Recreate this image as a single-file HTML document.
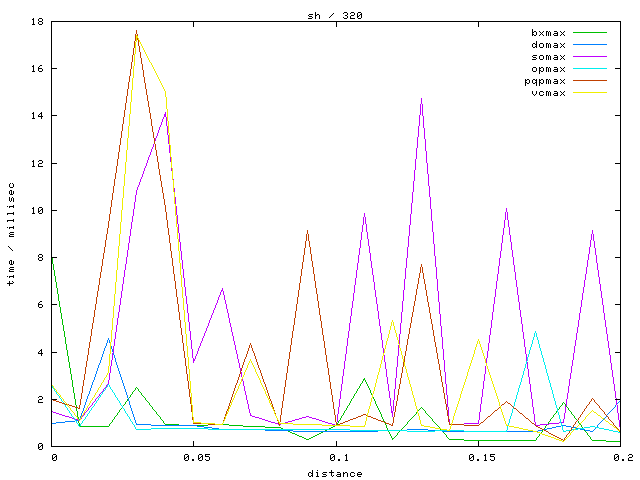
<!DOCTYPE html>
<html><head><meta charset="utf-8"><title>sh / 320</title>
<style>
html,body{margin:0;padding:0;background:#fff;}
body{width:640px;height:480px;overflow:hidden;font-family:"Liberation Mono",monospace;}
svg{display:block;}
</style></head>
<body>
<svg width="640" height="480" viewBox="0 0 640 480" shape-rendering="crispEdges">
<rect x="0" y="0" width="640" height="480" fill="#ffffff"/>
<path fill="#00c000" d="M51 254h1v4h-1zM52 258h1v6h-1zM53 264h1v6h-1zM54 270h1v6h-1zM55 276h1v6h-1zM56 282h1v6h-1zM57 288h1v6h-1zM58 294h1v7h-1zM59 301h1v6h-1zM60 307h1v6h-1zM61 313h1v6h-1zM62 319h1v6h-1zM63 325h1v6h-1zM64 331h1v6h-1zM65 337h1v7h-1zM66 344h1v6h-1zM67 350h1v6h-1zM68 356h1v6h-1zM69 362h1v6h-1zM70 368h1v6h-1zM71 374h1v6h-1zM364 378h1v1h-1zM363 379h2v1h-2zM72 380h1v7h-1zM363 380h1v1h-1zM365 380h1v2h-1zM362 381h1v2h-1zM366 382h1v2h-1zM361 383h1v1h-1zM360 384h1v2h-1zM367 384h1v2h-1zM359 386h1v2h-1zM368 386h1v2h-1zM73 387h1v6h-1zM136 387h1v1h-1zM135 388h1v2h-1zM137 388h1v1h-1zM358 388h1v1h-1zM369 388h1v2h-1zM138 389h1v2h-1zM357 389h1v2h-1zM134 390h1v1h-1zM370 390h1v3h-1zM133 391h1v1h-1zM139 391h1v1h-1zM356 391h1v2h-1zM132 392h1v2h-1zM140 392h1v1h-1zM74 393h1v6h-1zM141 393h1v2h-1zM355 393h1v1h-1zM371 393h1v2h-1zM131 394h1v1h-1zM354 394h1v2h-1zM130 395h1v2h-1zM142 395h1v1h-1zM372 395h1v2h-1zM143 396h1v1h-1zM353 396h1v2h-1zM129 397h1v1h-1zM144 397h1v1h-1zM373 397h1v2h-1zM128 398h1v1h-1zM145 398h1v2h-1zM352 398h1v1h-1zM75 399h1v6h-1zM127 399h1v2h-1zM351 399h1v2h-1zM374 399h1v2h-1zM146 400h1v1h-1zM126 401h1v1h-1zM147 401h1v1h-1zM350 401h1v2h-1zM375 401h1v3h-1zM125 402h1v2h-1zM148 402h1v1h-1zM563 402h1v1h-1zM149 403h1v2h-1zM349 403h1v2h-1zM562 403h1v2h-1zM564 403h1v1h-1zM124 404h1v1h-1zM376 404h1v2h-1zM565 404h1v2h-1zM76 405h1v6h-1zM123 405h1v1h-1zM150 405h1v1h-1zM348 405h1v1h-1zM561 405h1v1h-1zM122 406h1v2h-1zM151 406h1v1h-1zM347 406h1v2h-1zM377 406h1v2h-1zM560 406h1v1h-1zM566 406h1v1h-1zM152 407h1v2h-1zM421 407h1v1h-1zM559 407h1v2h-1zM567 407h1v1h-1zM121 408h1v1h-1zM346 408h1v2h-1zM378 408h1v2h-1zM420 408h1v1h-1zM422 408h1v1h-1zM568 408h1v2h-1zM120 409h1v1h-1zM153 409h1v1h-1zM419 409h1v1h-1zM423 409h1v1h-1zM558 409h1v1h-1zM119 410h1v2h-1zM154 410h1v1h-1zM345 410h1v1h-1zM379 410h1v2h-1zM418 410h1v1h-1zM424 410h1v1h-1zM557 410h1v1h-1zM569 410h1v1h-1zM77 411h1v6h-1zM155 411h1v1h-1zM344 411h1v2h-1zM417 411h1v1h-1zM425 411h1v2h-1zM556 411h1v2h-1zM570 411h1v1h-1zM118 412h1v1h-1zM156 412h1v2h-1zM380 412h1v2h-1zM416 412h1v2h-1zM571 412h1v2h-1zM117 413h1v2h-1zM343 413h1v2h-1zM426 413h1v1h-1zM555 413h1v1h-1zM157 414h1v1h-1zM381 414h1v3h-1zM415 414h1v1h-1zM427 414h1v1h-1zM554 414h1v1h-1zM572 414h1v1h-1zM116 415h1v1h-1zM158 415h1v1h-1zM342 415h1v1h-1zM414 415h1v1h-1zM428 415h1v1h-1zM553 415h1v2h-1zM573 415h1v1h-1zM115 416h1v1h-1zM159 416h1v1h-1zM341 416h1v2h-1zM413 416h1v1h-1zM429 416h1v1h-1zM574 416h1v2h-1zM78 417h1v6h-1zM114 417h1v2h-1zM160 417h1v2h-1zM382 417h1v2h-1zM412 417h1v1h-1zM430 417h1v1h-1zM552 417h1v1h-1zM340 418h1v2h-1zM411 418h1v1h-1zM431 418h1v1h-1zM551 418h1v1h-1zM575 418h1v1h-1zM113 419h1v1h-1zM161 419h1v1h-1zM383 419h1v2h-1zM410 419h1v1h-1zM432 419h1v2h-1zM550 419h1v2h-1zM576 419h1v1h-1zM112 420h1v2h-1zM162 420h1v1h-1zM339 420h1v1h-1zM409 420h1v1h-1zM577 420h1v1h-1zM163 421h1v2h-1zM338 421h1v2h-1zM384 421h1v2h-1zM408 421h1v1h-1zM433 421h1v1h-1zM549 421h1v1h-1zM578 421h1v2h-1zM111 422h1v1h-1zM407 422h1v2h-1zM434 422h1v1h-1zM548 422h1v2h-1zM79 423h1v3h-1zM110 423h1v1h-1zM164 423h1v1h-1zM337 423h1v2h-1zM385 423h1v2h-1zM435 423h1v1h-1zM579 423h1v1h-1zM109 424h1v2h-1zM165 424h14v1h-14zM208 424h21v1h-21zM406 424h1v1h-1zM436 424h1v1h-1zM547 424h1v1h-1zM580 424h1v1h-1zM179 425h29v1h-29zM229 425h14v1h-14zM335 425h2v1h-2zM386 425h1v3h-1zM405 425h1v1h-1zM437 425h1v1h-1zM546 425h1v1h-1zM581 425h1v2h-1zM79 426h30v1h-30zM243 426h22v1h-22zM333 426h2v1h-2zM404 426h1v1h-1zM438 426h1v1h-1zM545 426h1v2h-1zM265 427h16v1h-16zM331 427h2v1h-2zM403 427h1v1h-1zM439 427h1v2h-1zM582 427h1v1h-1zM281 428h2v1h-2zM329 428h2v1h-2zM387 428h1v2h-1zM402 428h1v1h-1zM544 428h1v1h-1zM583 428h1v1h-1zM283 429h2v1h-2zM327 429h2v1h-2zM401 429h1v1h-1zM440 429h1v1h-1zM543 429h1v1h-1zM584 429h1v2h-1zM285 430h3v1h-3zM325 430h2v1h-2zM388 430h1v2h-1zM400 430h1v1h-1zM441 430h1v1h-1zM542 430h1v2h-1zM288 431h2v1h-2zM323 431h2v1h-2zM399 431h1v1h-1zM442 431h1v1h-1zM585 431h1v1h-1zM290 432h2v1h-2zM321 432h2v1h-2zM389 432h1v2h-1zM398 432h1v1h-1zM443 432h1v1h-1zM541 432h1v1h-1zM586 432h1v1h-1zM292 433h3v1h-3zM319 433h2v1h-2zM397 433h1v2h-1zM444 433h1v1h-1zM540 433h1v1h-1zM587 433h1v2h-1zM295 434h2v1h-2zM317 434h2v1h-2zM390 434h1v2h-1zM445 434h1v1h-1zM539 434h1v2h-1zM297 435h2v1h-2zM315 435h2v1h-2zM396 435h1v1h-1zM446 435h1v2h-1zM588 435h1v1h-1zM299 436h3v1h-3zM313 436h2v1h-2zM391 436h1v2h-1zM395 436h1v1h-1zM538 436h1v1h-1zM589 436h1v1h-1zM302 437h2v1h-2zM311 437h2v1h-2zM394 437h1v1h-1zM447 437h1v1h-1zM537 437h1v1h-1zM590 437h1v2h-1zM304 438h2v1h-2zM309 438h2v1h-2zM392 438h2v1h-2zM448 438h1v1h-1zM536 438h1v2h-1zM306 439h3v1h-3zM392 439h1v1h-1zM449 439h15v1h-15zM591 439h1v1h-1zM464 440h72v1h-72zM592 440h14v1h-14zM606 441h15v1h-15z"/>
<path fill="#0080ff" d="M108 338h1v2h-1zM107 340h1v3h-1zM109 340h1v3h-1zM106 343h1v3h-1zM110 343h1v3h-1zM105 346h1v2h-1zM111 346h1v3h-1zM104 348h1v3h-1zM112 349h1v3h-1zM103 351h1v3h-1zM113 352h1v3h-1zM102 354h1v3h-1zM114 355h1v3h-1zM101 357h1v3h-1zM115 358h1v4h-1zM100 360h1v3h-1zM116 362h1v3h-1zM99 363h1v2h-1zM98 365h1v3h-1zM117 365h1v3h-1zM97 368h1v3h-1zM118 368h1v3h-1zM96 371h1v3h-1zM119 371h1v3h-1zM95 374h1v3h-1zM120 374h1v3h-1zM94 377h1v3h-1zM121 377h1v3h-1zM93 380h1v2h-1zM122 380h1v3h-1zM92 382h1v3h-1zM123 383h1v3h-1zM91 385h1v3h-1zM124 386h1v3h-1zM90 388h1v3h-1zM125 389h1v3h-1zM89 391h1v3h-1zM126 392h1v3h-1zM88 394h1v2h-1zM127 395h1v3h-1zM87 396h1v3h-1zM128 398h1v3h-1zM86 399h1v3h-1zM620 400h1v1h-1zM129 401h1v4h-1zM619 401h1v1h-1zM85 402h1v3h-1zM618 402h1v1h-1zM617 403h1v1h-1zM616 404h1v1h-1zM84 405h1v3h-1zM130 405h1v3h-1zM615 405h1v2h-1zM614 407h1v1h-1zM83 408h1v3h-1zM131 408h1v3h-1zM613 408h1v1h-1zM612 409h1v1h-1zM611 410h1v1h-1zM82 411h1v2h-1zM132 411h1v3h-1zM610 411h1v1h-1zM609 412h1v1h-1zM81 413h1v3h-1zM608 413h1v1h-1zM133 414h1v3h-1zM607 414h1v1h-1zM606 415h1v2h-1zM80 416h1v3h-1zM134 417h1v3h-1zM605 417h1v1h-1zM604 418h1v1h-1zM79 419h1v1h-1zM603 419h1v1h-1zM75 420h5v1h-5zM135 420h1v3h-1zM602 420h1v1h-1zM65 421h10v1h-10zM601 421h1v1h-1zM56 422h9v1h-9zM600 422h1v1h-1zM51 423h5v1h-5zM136 423h1v1h-1zM599 423h1v1h-1zM136 424h15v1h-15zM598 424h1v1h-1zM151 425h46v1h-46zM561 425h5v1h-5zM597 425h1v2h-1zM197 426h7v1h-7zM556 426h5v1h-5zM566 426h5v1h-5zM204 427h8v1h-8zM552 427h4v1h-4zM571 427h5v1h-5zM596 427h1v1h-1zM212 428h7v1h-7zM547 428h5v1h-5zM576 428h4v1h-4zM595 428h1v1h-1zM219 429h46v1h-46zM407 429h21v1h-21zM542 429h5v1h-5zM580 429h5v1h-5zM594 429h1v1h-1zM265 430h28v1h-28zM378 430h29v1h-29zM428 430h14v1h-14zM538 430h4v1h-4zM585 430h5v1h-5zM593 430h1v1h-1zM293 431h85v1h-85zM442 431h96v1h-96zM590 431h3v1h-3z"/>
<path fill="#c000ff" d="M421 98h1v6h-1zM420 104h1v11h-1zM422 104h1v12h-1zM165 112h1v2h-1zM164 114h2v3h-2zM419 115h1v11h-1zM423 116h1v12h-1zM163 117h1v2h-1zM166 117h1v9h-1zM162 119h1v3h-1zM161 122h1v3h-1zM160 125h1v2h-1zM167 126h1v9h-1zM418 126h1v11h-1zM159 127h1v3h-1zM424 128h1v11h-1zM158 130h1v3h-1zM157 133h1v3h-1zM168 135h1v9h-1zM156 136h1v2h-1zM417 137h1v11h-1zM155 138h1v3h-1zM425 139h1v12h-1zM154 141h1v3h-1zM153 144h1v3h-1zM169 144h1v9h-1zM152 147h1v2h-1zM416 148h1v11h-1zM151 149h1v3h-1zM426 151h1v12h-1zM150 152h1v3h-1zM170 153h1v9h-1zM149 155h1v2h-1zM148 157h1v3h-1zM415 159h1v11h-1zM147 160h1v3h-1zM171 162h1v9h-1zM146 163h1v3h-1zM427 163h1v11h-1zM145 166h1v2h-1zM144 168h1v3h-1zM414 170h1v11h-1zM143 171h1v3h-1zM172 171h1v8h-1zM142 174h1v3h-1zM428 174h1v12h-1zM141 177h1v2h-1zM140 179h1v3h-1zM173 179h1v9h-1zM413 181h1v11h-1zM139 182h1v3h-1zM138 185h1v2h-1zM429 186h1v11h-1zM137 187h1v3h-1zM174 188h1v9h-1zM136 190h1v5h-1zM412 192h1v11h-1zM135 195h1v7h-1zM175 197h1v9h-1zM430 197h1v12h-1zM134 202h1v7h-1zM411 203h1v11h-1zM176 206h1v9h-1zM506 208h1v4h-1zM133 209h1v7h-1zM431 209h1v12h-1zM505 212h1v8h-1zM507 212h1v8h-1zM364 213h1v4h-1zM410 214h1v11h-1zM177 215h1v9h-1zM132 216h1v6h-1zM363 217h1v8h-1zM365 217h1v7h-1zM504 220h1v8h-1zM508 220h1v7h-1zM432 221h1v11h-1zM131 222h1v7h-1zM178 224h1v9h-1zM366 224h1v8h-1zM362 225h1v7h-1zM409 225h1v11h-1zM509 227h1v8h-1zM503 228h1v7h-1zM130 229h1v7h-1zM592 230h1v4h-1zM361 232h1v8h-1zM367 232h1v7h-1zM433 232h1v12h-1zM179 233h1v9h-1zM591 234h1v6h-1zM593 234h1v7h-1zM502 235h1v8h-1zM510 235h1v7h-1zM129 236h1v7h-1zM408 236h1v11h-1zM368 239h1v7h-1zM360 240h1v8h-1zM590 240h1v7h-1zM594 241h1v7h-1zM180 242h1v9h-1zM511 242h1v8h-1zM128 243h1v7h-1zM501 243h1v8h-1zM434 244h1v12h-1zM369 246h1v7h-1zM407 247h1v11h-1zM589 247h1v7h-1zM359 248h1v7h-1zM595 248h1v7h-1zM127 250h1v7h-1zM512 250h1v7h-1zM181 251h1v9h-1zM500 251h1v7h-1zM370 253h1v8h-1zM588 254h1v6h-1zM358 255h1v8h-1zM596 255h1v8h-1zM435 256h1v11h-1zM126 257h1v7h-1zM513 257h1v8h-1zM406 258h1v10h-1zM499 258h1v8h-1zM182 260h1v9h-1zM587 260h1v7h-1zM371 261h1v7h-1zM357 263h1v7h-1zM597 263h1v7h-1zM125 264h1v6h-1zM514 265h1v7h-1zM498 266h1v8h-1zM436 267h1v12h-1zM586 267h1v7h-1zM372 268h1v7h-1zM405 268h1v11h-1zM183 269h1v9h-1zM124 270h1v7h-1zM356 270h1v8h-1zM598 270h1v7h-1zM515 272h1v8h-1zM497 274h1v7h-1zM585 274h1v6h-1zM373 275h1v7h-1zM123 277h1v7h-1zM599 277h1v7h-1zM184 278h1v9h-1zM355 278h1v7h-1zM404 279h1v11h-1zM437 279h1v12h-1zM516 280h1v7h-1zM584 280h1v7h-1zM496 281h1v8h-1zM374 282h1v8h-1zM122 284h1v7h-1zM600 284h1v7h-1zM354 285h1v8h-1zM185 287h1v9h-1zM517 287h1v8h-1zM583 287h1v6h-1zM222 288h1v2h-1zM495 289h1v8h-1zM221 290h2v1h-2zM375 290h1v7h-1zM403 290h1v11h-1zM121 291h1v7h-1zM221 291h1v1h-1zM223 291h1v4h-1zM438 291h1v11h-1zM601 291h1v7h-1zM220 292h1v3h-1zM353 293h1v8h-1zM582 293h1v7h-1zM219 295h1v2h-1zM224 295h1v5h-1zM518 295h1v7h-1zM186 296h1v8h-1zM218 297h1v3h-1zM376 297h1v7h-1zM494 297h1v7h-1zM120 298h1v7h-1zM602 298h1v7h-1zM217 300h1v3h-1zM225 300h1v4h-1zM581 300h1v7h-1zM352 301h1v7h-1zM402 301h1v11h-1zM439 302h1v12h-1zM519 302h1v8h-1zM216 303h1v2h-1zM187 304h1v9h-1zM226 304h1v5h-1zM377 304h1v7h-1zM493 304h1v8h-1zM119 305h1v7h-1zM215 305h1v3h-1zM603 305h1v8h-1zM580 307h1v6h-1zM214 308h1v2h-1zM351 308h1v8h-1zM227 309h1v4h-1zM213 310h1v3h-1zM520 310h1v7h-1zM378 311h1v8h-1zM118 312h1v6h-1zM401 312h1v11h-1zM492 312h1v8h-1zM188 313h1v9h-1zM212 313h1v2h-1zM228 313h1v5h-1zM579 313h1v7h-1zM604 313h1v7h-1zM440 314h1v12h-1zM211 315h1v3h-1zM350 316h1v7h-1zM521 317h1v7h-1zM117 318h1v7h-1zM210 318h1v2h-1zM229 318h1v5h-1zM379 319h1v7h-1zM209 320h1v3h-1zM491 320h1v8h-1zM578 320h1v7h-1zM605 320h1v7h-1zM189 322h1v9h-1zM208 323h1v3h-1zM230 323h1v4h-1zM349 323h1v8h-1zM400 323h1v11h-1zM522 324h1v8h-1zM116 325h1v7h-1zM207 326h1v2h-1zM380 326h1v7h-1zM441 326h1v11h-1zM231 327h1v5h-1zM577 327h1v6h-1zM606 327h1v7h-1zM206 328h1v3h-1zM490 328h1v7h-1zM190 331h1v9h-1zM205 331h1v2h-1zM348 331h1v7h-1zM115 332h1v7h-1zM232 332h1v4h-1zM523 332h1v7h-1zM204 333h1v3h-1zM381 333h1v7h-1zM576 333h1v7h-1zM399 334h1v11h-1zM607 334h1v7h-1zM489 335h1v8h-1zM203 336h1v2h-1zM233 336h1v5h-1zM442 337h1v12h-1zM202 338h1v3h-1zM347 338h1v8h-1zM114 339h1v7h-1zM524 339h1v8h-1zM191 340h1v9h-1zM382 340h1v8h-1zM575 340h1v6h-1zM201 341h1v2h-1zM234 341h1v4h-1zM608 341h1v7h-1zM200 343h1v3h-1zM488 343h1v8h-1zM235 345h1v5h-1zM398 345h1v11h-1zM113 346h1v7h-1zM199 346h1v2h-1zM346 346h1v8h-1zM574 346h1v7h-1zM525 347h1v7h-1zM198 348h1v3h-1zM383 348h1v7h-1zM609 348h1v7h-1zM192 349h1v9h-1zM443 349h1v11h-1zM236 350h1v4h-1zM197 351h1v3h-1zM487 351h1v7h-1zM112 353h1v7h-1zM573 353h1v7h-1zM196 354h1v2h-1zM237 354h1v5h-1zM345 354h1v7h-1zM526 354h1v8h-1zM384 355h1v7h-1zM610 355h1v8h-1zM195 356h1v3h-1zM397 356h1v11h-1zM193 358h1v1h-1zM486 358h1v8h-1zM193 359h2v2h-2zM238 359h1v4h-1zM111 360h1v6h-1zM444 360h1v12h-1zM572 360h1v6h-1zM193 361h1v2h-1zM344 361h1v8h-1zM385 362h1v7h-1zM527 362h1v7h-1zM239 363h1v5h-1zM611 363h1v7h-1zM110 366h1v7h-1zM485 366h1v8h-1zM571 366h1v7h-1zM396 367h1v11h-1zM240 368h1v4h-1zM343 369h1v7h-1zM386 369h1v8h-1zM528 369h1v8h-1zM612 370h1v7h-1zM241 372h1v5h-1zM445 372h1v12h-1zM109 373h1v7h-1zM570 373h1v6h-1zM484 374h1v7h-1zM342 376h1v8h-1zM242 377h1v4h-1zM387 377h1v7h-1zM529 377h1v7h-1zM613 377h1v7h-1zM395 378h1v11h-1zM569 379h1v7h-1zM108 380h1v4h-1zM243 381h1v5h-1zM483 381h1v8h-1zM107 384h1v1h-1zM341 384h1v7h-1zM388 384h1v7h-1zM446 384h1v11h-1zM530 384h1v8h-1zM614 384h1v7h-1zM106 385h1v2h-1zM244 386h1v5h-1zM568 386h1v7h-1zM105 387h1v1h-1zM104 388h1v1h-1zM103 389h1v2h-1zM394 389h1v11h-1zM482 389h1v8h-1zM102 391h1v1h-1zM245 391h1v4h-1zM340 391h1v8h-1zM389 391h1v7h-1zM615 391h1v7h-1zM101 392h1v1h-1zM531 392h1v7h-1zM100 393h1v1h-1zM567 393h1v6h-1zM99 394h1v2h-1zM246 395h1v5h-1zM447 395h1v12h-1zM98 396h1v1h-1zM97 397h1v1h-1zM481 397h1v7h-1zM96 398h1v1h-1zM390 398h1v8h-1zM616 398h1v7h-1zM95 399h1v2h-1zM339 399h1v8h-1zM532 399h1v8h-1zM566 399h1v7h-1zM247 400h1v4h-1zM393 400h1v11h-1zM94 401h1v1h-1zM93 402h1v1h-1zM92 403h1v2h-1zM248 404h1v5h-1zM480 404h1v8h-1zM91 405h1v1h-1zM617 405h1v8h-1zM90 406h1v1h-1zM391 406h1v5h-1zM565 406h1v7h-1zM89 407h1v1h-1zM338 407h1v7h-1zM448 407h1v12h-1zM533 407h1v7h-1zM88 408h1v2h-1zM249 409h1v4h-1zM87 410h1v1h-1zM51 411h2v1h-2zM86 411h1v1h-1zM391 411h2v2h-2zM53 412h3v1h-3zM85 412h1v1h-1zM479 412h1v8h-1zM56 413h3v1h-3zM84 413h1v2h-1zM250 413h1v2h-1zM392 413h1v4h-1zM564 413h1v6h-1zM618 413h1v7h-1zM59 414h3v1h-3zM337 414h1v8h-1zM534 414h1v8h-1zM62 415h3v1h-3zM83 415h1v1h-1zM250 415h2v1h-2zM65 416h4v1h-4zM82 416h1v1h-1zM252 416h3v1h-3zM306 416h3v1h-3zM69 417h3v1h-3zM81 417h1v2h-1zM255 417h4v1h-4zM302 417h4v1h-4zM309 417h3v1h-3zM72 418h3v1h-3zM259 418h3v1h-3zM299 418h3v1h-3zM312 418h4v1h-4zM75 419h3v1h-3zM80 419h1v1h-1zM262 419h3v1h-3zM295 419h4v1h-4zM316 419h3v1h-3zM449 419h1v5h-1zM563 419h1v3h-1zM78 420h2v1h-2zM265 420h3v1h-3zM292 420h3v1h-3zM319 420h3v1h-3zM478 420h1v3h-1zM619 420h1v7h-1zM268 421h3v1h-3zM288 421h4v1h-4zM322 421h3v1h-3zM271 422h4v1h-4zM285 422h3v1h-3zM325 422h3v1h-3zM336 422h1v3h-1zM535 422h1v3h-1zM559 422h5v1h-5zM275 423h3v1h-3zM281 423h4v1h-4zM328 423h4v1h-4zM464 423h15v1h-15zM549 423h10v1h-10zM278 424h3v1h-3zM332 424h3v1h-3zM449 424h15v1h-15zM540 424h9v1h-9zM335 425h2v1h-2zM535 425h5v1h-5zM620 427h1v4h-1z"/>
<path fill="#00eeee" d="M535 331h1v2h-1zM534 333h1v4h-1zM536 333h1v4h-1zM533 337h1v3h-1zM537 337h1v3h-1zM532 340h1v4h-1zM538 340h1v4h-1zM531 344h1v3h-1zM539 344h1v4h-1zM530 347h1v3h-1zM540 348h1v3h-1zM529 350h1v4h-1zM541 351h1v4h-1zM528 354h1v3h-1zM542 355h1v3h-1zM527 357h1v4h-1zM543 358h1v4h-1zM526 361h1v3h-1zM544 362h1v3h-1zM525 364h1v4h-1zM545 365h1v4h-1zM524 368h1v3h-1zM546 369h1v4h-1zM523 371h1v4h-1zM547 373h1v3h-1zM522 375h1v3h-1zM548 376h1v4h-1zM521 378h1v4h-1zM549 380h1v3h-1zM520 382h1v3h-1zM550 383h1v4h-1zM108 384h1v1h-1zM51 385h1v1h-1zM107 385h1v2h-1zM109 385h1v2h-1zM519 385h1v3h-1zM52 386h1v2h-1zM106 387h1v1h-1zM110 387h1v2h-1zM551 387h1v3h-1zM53 388h1v1h-1zM105 388h1v2h-1zM518 388h1v4h-1zM54 389h1v2h-1zM111 389h1v1h-1zM104 390h1v1h-1zM112 390h1v2h-1zM552 390h1v4h-1zM55 391h1v1h-1zM103 391h1v1h-1zM56 392h1v2h-1zM102 392h1v2h-1zM113 392h1v1h-1zM517 392h1v3h-1zM114 393h1v2h-1zM57 394h1v1h-1zM101 394h1v1h-1zM553 394h1v4h-1zM58 395h1v1h-1zM100 395h1v2h-1zM115 395h1v2h-1zM516 395h1v4h-1zM59 396h1v2h-1zM99 397h1v1h-1zM116 397h1v1h-1zM60 398h1v1h-1zM98 398h1v2h-1zM117 398h1v2h-1zM554 398h1v3h-1zM61 399h1v2h-1zM515 399h1v3h-1zM97 400h1v1h-1zM118 400h1v1h-1zM62 401h1v1h-1zM96 401h1v2h-1zM119 401h1v2h-1zM555 401h1v4h-1zM63 402h1v2h-1zM514 402h1v4h-1zM95 403h1v1h-1zM120 403h1v2h-1zM64 404h1v1h-1zM94 404h1v2h-1zM65 405h1v2h-1zM121 405h1v1h-1zM556 405h1v3h-1zM93 406h1v1h-1zM122 406h1v2h-1zM513 406h1v3h-1zM66 407h1v1h-1zM92 407h1v1h-1zM67 408h1v2h-1zM91 408h1v2h-1zM123 408h1v1h-1zM557 408h1v4h-1zM124 409h1v2h-1zM512 409h1v4h-1zM68 410h1v1h-1zM90 410h1v1h-1zM69 411h1v2h-1zM89 411h1v2h-1zM125 411h1v2h-1zM558 412h1v3h-1zM70 413h1v1h-1zM88 413h1v1h-1zM126 413h1v1h-1zM511 413h1v3h-1zM71 414h1v2h-1zM87 414h1v2h-1zM127 414h1v2h-1zM559 415h1v4h-1zM72 416h1v1h-1zM86 416h1v1h-1zM128 416h1v1h-1zM510 416h1v3h-1zM73 417h1v1h-1zM85 417h1v2h-1zM129 417h1v2h-1zM74 418h1v2h-1zM84 419h1v1h-1zM130 419h1v2h-1zM509 419h1v4h-1zM560 419h1v4h-1zM75 420h1v1h-1zM83 420h1v1h-1zM76 421h1v2h-1zM82 421h1v2h-1zM131 421h1v1h-1zM132 422h1v2h-1zM77 423h1v1h-1zM81 423h1v1h-1zM508 423h1v3h-1zM561 423h1v3h-1zM78 424h1v2h-1zM80 424h1v2h-1zM133 424h1v1h-1zM134 425h1v2h-1zM79 426h1v1h-1zM507 426h1v4h-1zM562 426h1v4h-1zM590 426h5v1h-5zM135 427h1v2h-1zM584 427h6v1h-6zM595 427h4v1h-4zM151 428h57v1h-57zM578 428h6v1h-6zM599 428h5v1h-5zM136 429h15v1h-15zM208 429h142v1h-142zM572 429h6v1h-6zM604 429h5v1h-5zM350 430h57v1h-57zM435 430h29v1h-29zM506 430h1v1h-1zM563 430h1v1h-1zM566 430h6v1h-6zM609 430h4v1h-4zM407 431h28v1h-28zM464 431h43v1h-43zM563 431h3v1h-3zM613 431h5v1h-5zM618 432h3v1h-3z"/>
<path fill="#c04000" d="M136 30h1v4h-1zM135 34h1v7h-1zM137 34h1v6h-1zM138 40h1v6h-1zM134 41h1v7h-1zM139 46h1v6h-1zM133 48h1v7h-1zM140 52h1v6h-1zM132 55h1v7h-1zM141 58h1v6h-1zM131 62h1v7h-1zM142 64h1v6h-1zM130 69h1v7h-1zM143 70h1v7h-1zM129 76h1v6h-1zM144 77h1v6h-1zM128 82h1v7h-1zM145 83h1v6h-1zM127 89h1v7h-1zM146 89h1v6h-1zM147 95h1v6h-1zM126 96h1v7h-1zM148 101h1v6h-1zM125 103h1v7h-1zM149 107h1v6h-1zM124 110h1v7h-1zM150 113h1v6h-1zM123 117h1v7h-1zM151 119h1v7h-1zM122 124h1v7h-1zM152 126h1v6h-1zM121 131h1v7h-1zM153 132h1v6h-1zM120 138h1v7h-1zM154 138h1v6h-1zM155 144h1v6h-1zM119 145h1v7h-1zM156 150h1v6h-1zM118 152h1v7h-1zM157 156h1v6h-1zM117 159h1v7h-1zM158 162h1v7h-1zM116 166h1v7h-1zM159 169h1v6h-1zM115 173h1v6h-1zM160 175h1v6h-1zM114 179h1v7h-1zM161 181h1v6h-1zM113 186h1v7h-1zM162 187h1v6h-1zM112 193h1v7h-1zM163 193h1v6h-1zM164 199h1v6h-1zM111 200h1v7h-1zM165 205h1v7h-1zM110 207h1v7h-1zM166 212h1v8h-1zM109 214h1v7h-1zM167 220h1v8h-1zM108 221h1v7h-1zM107 228h1v6h-1zM168 228h1v7h-1zM307 230h1v4h-1zM106 234h1v6h-1zM306 234h1v7h-1zM308 234h1v7h-1zM169 235h1v8h-1zM105 240h1v7h-1zM305 241h1v7h-1zM309 241h1v6h-1zM170 243h1v8h-1zM104 247h1v6h-1zM310 247h1v7h-1zM304 248h1v7h-1zM171 251h1v7h-1zM103 253h1v6h-1zM311 254h1v7h-1zM303 255h1v7h-1zM172 258h1v8h-1zM102 259h1v7h-1zM312 261h1v6h-1zM302 262h1v7h-1zM421 264h1v3h-1zM101 266h1v6h-1zM173 266h1v8h-1zM313 267h1v7h-1zM420 267h1v6h-1zM422 267h1v6h-1zM301 269h1v7h-1zM100 272h1v6h-1zM419 273h1v5h-1zM423 273h1v6h-1zM174 274h1v7h-1zM314 274h1v7h-1zM300 276h1v7h-1zM99 278h1v7h-1zM418 278h1v6h-1zM424 279h1v5h-1zM175 281h1v8h-1zM315 281h1v7h-1zM299 283h1v7h-1zM417 284h1v5h-1zM425 284h1v6h-1zM98 285h1v6h-1zM316 288h1v6h-1zM176 289h1v8h-1zM416 289h1v6h-1zM298 290h1v7h-1zM426 290h1v6h-1zM97 291h1v6h-1zM317 294h1v7h-1zM415 295h1v6h-1zM427 296h1v6h-1zM96 297h1v7h-1zM177 297h1v7h-1zM297 297h1v7h-1zM318 301h1v7h-1zM414 301h1v5h-1zM428 302h1v5h-1zM95 304h1v6h-1zM178 304h1v8h-1zM296 304h1v7h-1zM413 306h1v6h-1zM429 307h1v6h-1zM319 308h1v7h-1zM94 310h1v7h-1zM295 311h1v7h-1zM179 312h1v8h-1zM412 312h1v5h-1zM430 313h1v6h-1zM320 315h1v6h-1zM93 317h1v6h-1zM411 317h1v6h-1zM294 318h1v7h-1zM431 319h1v5h-1zM180 320h1v8h-1zM321 321h1v7h-1zM92 323h1v6h-1zM410 323h1v5h-1zM432 324h1v6h-1zM293 325h1v6h-1zM181 328h1v7h-1zM322 328h1v7h-1zM409 328h1v6h-1zM91 329h1v7h-1zM433 330h1v6h-1zM292 331h1v7h-1zM408 334h1v5h-1zM182 335h1v8h-1zM323 335h1v6h-1zM90 336h1v6h-1zM434 336h1v6h-1zM291 338h1v7h-1zM407 339h1v6h-1zM324 341h1v7h-1zM89 342h1v6h-1zM435 342h1v5h-1zM183 343h1v8h-1zM250 343h1v2h-1zM249 345h1v3h-1zM251 345h1v3h-1zM290 345h1v7h-1zM406 345h1v6h-1zM436 347h1v6h-1zM88 348h1v7h-1zM248 348h1v3h-1zM252 348h1v3h-1zM325 348h1v7h-1zM184 351h1v7h-1zM247 351h1v3h-1zM253 351h1v2h-1zM405 351h1v5h-1zM289 352h1v7h-1zM254 353h1v3h-1zM437 353h1v6h-1zM246 354h1v3h-1zM87 355h1v6h-1zM326 355h1v7h-1zM255 356h1v3h-1zM404 356h1v6h-1zM245 357h1v2h-1zM185 358h1v8h-1zM244 359h1v3h-1zM256 359h1v3h-1zM288 359h1v7h-1zM438 359h1v5h-1zM86 361h1v6h-1zM243 362h1v3h-1zM257 362h1v3h-1zM327 362h1v6h-1zM403 362h1v5h-1zM439 364h1v6h-1zM242 365h1v3h-1zM258 365h1v3h-1zM186 366h1v8h-1zM287 366h1v7h-1zM85 367h1v7h-1zM402 367h1v6h-1zM241 368h1v3h-1zM259 368h1v2h-1zM328 368h1v7h-1zM260 370h1v3h-1zM440 370h1v6h-1zM240 371h1v3h-1zM261 373h1v3h-1zM286 373h1v7h-1zM401 373h1v5h-1zM84 374h1v6h-1zM187 374h1v7h-1zM239 374h1v3h-1zM329 375h1v7h-1zM262 376h1v3h-1zM441 376h1v6h-1zM238 377h1v3h-1zM400 378h1v6h-1zM263 379h1v3h-1zM83 380h1v6h-1zM237 380h1v3h-1zM285 380h1v7h-1zM188 381h1v8h-1zM264 382h1v2h-1zM330 382h1v7h-1zM442 382h1v5h-1zM236 383h1v2h-1zM265 384h1v3h-1zM399 384h1v5h-1zM235 385h1v3h-1zM82 386h1v7h-1zM266 387h1v3h-1zM284 387h1v7h-1zM443 387h1v6h-1zM234 388h1v3h-1zM189 389h1v8h-1zM331 389h1v6h-1zM398 389h1v6h-1zM267 390h1v3h-1zM233 391h1v3h-1zM81 393h1v6h-1zM268 393h1v3h-1zM444 393h1v6h-1zM232 394h1v3h-1zM283 394h1v7h-1zM332 395h1v7h-1zM397 395h1v6h-1zM269 396h1v3h-1zM190 397h1v7h-1zM231 397h1v3h-1zM592 398h1v1h-1zM51 399h2v1h-2zM80 399h1v6h-1zM270 399h1v2h-1zM445 399h1v5h-1zM591 399h1v2h-1zM593 399h1v1h-1zM53 400h3v1h-3zM230 400h1v3h-1zM594 400h1v2h-1zM56 401h3v1h-3zM271 401h1v3h-1zM282 401h1v7h-1zM396 401h1v5h-1zM506 401h1v1h-1zM590 401h1v1h-1zM59 402h3v1h-3zM333 402h1v7h-1zM505 402h1v1h-1zM507 402h1v1h-1zM589 402h1v2h-1zM595 402h1v1h-1zM62 403h3v1h-3zM229 403h1v3h-1zM504 403h1v1h-1zM508 403h2v1h-2zM596 403h1v1h-1zM65 404h4v1h-4zM191 404h1v8h-1zM272 404h1v3h-1zM446 404h1v6h-1zM502 404h2v1h-2zM510 404h1v1h-1zM588 404h1v1h-1zM597 404h1v1h-1zM69 405h3v1h-3zM79 405h1v3h-1zM501 405h1v1h-1zM511 405h1v1h-1zM587 405h1v1h-1zM598 405h1v1h-1zM72 406h3v1h-3zM228 406h1v3h-1zM395 406h1v6h-1zM500 406h1v1h-1zM512 406h1v1h-1zM586 406h1v2h-1zM599 406h1v2h-1zM75 407h3v1h-3zM273 407h1v3h-1zM499 407h1v1h-1zM513 407h1v1h-1zM78 408h2v1h-2zM281 408h1v7h-1zM498 408h1v1h-1zM514 408h2v1h-2zM585 408h1v1h-1zM600 408h1v1h-1zM227 409h1v2h-1zM334 409h1v6h-1zM497 409h1v1h-1zM516 409h1v1h-1zM584 409h1v2h-1zM601 409h1v1h-1zM274 410h1v3h-1zM447 410h1v6h-1zM495 410h2v1h-2zM517 410h1v1h-1zM602 410h1v1h-1zM226 411h1v3h-1zM494 411h1v1h-1zM518 411h1v1h-1zM583 411h1v1h-1zM603 411h1v1h-1zM192 412h1v8h-1zM394 412h1v5h-1zM493 412h1v1h-1zM519 412h1v1h-1zM582 412h1v2h-1zM604 412h1v2h-1zM275 413h1v3h-1zM492 413h1v1h-1zM520 413h2v1h-2zM225 414h1v3h-1zM363 414h3v1h-3zM491 414h1v1h-1zM522 414h1v1h-1zM581 414h1v1h-1zM605 414h1v1h-1zM280 415h1v7h-1zM335 415h1v7h-1zM361 415h2v1h-2zM366 415h2v1h-2zM490 415h1v1h-1zM523 415h1v1h-1zM580 415h1v2h-1zM606 415h1v1h-1zM276 416h1v2h-1zM358 416h3v1h-3zM368 416h3v1h-3zM448 416h1v6h-1zM488 416h2v1h-2zM524 416h1v1h-1zM607 416h1v1h-1zM224 417h1v3h-1zM356 417h2v1h-2zM371 417h2v1h-2zM393 417h1v6h-1zM487 417h1v1h-1zM525 417h1v1h-1zM579 417h1v1h-1zM608 417h1v2h-1zM277 418h1v3h-1zM353 418h3v1h-3zM373 418h3v1h-3zM486 418h1v1h-1zM526 418h2v1h-2zM578 418h1v2h-1zM350 419h3v1h-3zM376 419h2v1h-2zM485 419h1v1h-1zM528 419h1v1h-1zM609 419h1v1h-1zM193 420h1v3h-1zM223 420h1v3h-1zM348 420h2v1h-2zM378 420h3v1h-3zM484 420h1v1h-1zM529 420h1v1h-1zM577 420h1v1h-1zM610 420h1v1h-1zM278 421h1v1h-1zM345 421h3v1h-3zM381 421h3v1h-3zM483 421h1v1h-1zM530 421h1v1h-1zM576 421h1v1h-1zM611 421h1v1h-1zM278 422h2v2h-2zM336 422h1v3h-1zM343 422h2v1h-2zM384 422h2v1h-2zM449 422h1v2h-1zM481 422h2v1h-2zM531 422h1v1h-1zM575 422h1v2h-1zM612 422h1v1h-1zM193 423h15v1h-15zM222 423h1v1h-1zM340 423h3v1h-3zM386 423h3v1h-3zM392 423h1v2h-1zM480 423h1v1h-1zM532 423h2v1h-2zM613 423h1v2h-1zM208 424h15v1h-15zM279 424h1v2h-1zM338 424h2v1h-2zM389 424h2v1h-2zM449 424h15v1h-15zM479 424h1v1h-1zM534 424h1v1h-1zM574 424h1v1h-1zM336 425h2v1h-2zM391 425h2v1h-2zM464 425h15v1h-15zM535 425h1v1h-1zM573 425h1v2h-1zM614 425h1v1h-1zM536 426h2v1h-2zM615 426h1v1h-1zM538 427h2v1h-2zM572 427h1v1h-1zM616 427h1v1h-1zM540 428h2v1h-2zM571 428h1v2h-1zM617 428h1v1h-1zM542 429h2v1h-2zM618 429h1v2h-1zM544 430h2v1h-2zM570 430h1v1h-1zM546 431h2v1h-2zM569 431h1v2h-1zM619 431h1v1h-1zM548 432h1v1h-1zM620 432h1v1h-1zM549 433h2v1h-2zM568 433h1v1h-1zM551 434h2v1h-2zM567 434h1v1h-1zM553 435h2v1h-2zM566 435h1v2h-1zM555 436h2v1h-2zM557 437h2v1h-2zM565 437h1v1h-1zM559 438h2v1h-2zM564 438h1v2h-1zM561 439h2v1h-2zM563 440h1v1h-1z"/>
<path fill="#eeee00" d="M136 35h1v1h-1zM136 36h2v2h-2zM136 38h1v4h-1zM138 38h1v2h-1zM139 40h1v2h-1zM135 42h1v12h-1zM140 42h1v2h-1zM141 44h1v2h-1zM142 46h1v2h-1zM143 48h1v2h-1zM144 50h1v2h-1zM145 52h1v2h-1zM134 54h1v12h-1zM146 54h1v2h-1zM147 56h1v2h-1zM148 58h1v2h-1zM149 60h1v2h-1zM150 62h1v1h-1zM151 63h1v2h-1zM152 65h1v2h-1zM133 66h1v12h-1zM153 67h1v2h-1zM154 69h1v2h-1zM155 71h1v2h-1zM156 73h1v2h-1zM157 75h1v2h-1zM158 77h1v2h-1zM132 78h1v12h-1zM159 79h1v2h-1zM160 81h1v2h-1zM161 83h1v2h-1zM162 85h1v2h-1zM163 87h1v2h-1zM164 89h1v2h-1zM131 90h1v12h-1zM165 91h1v6h-1zM166 97h1v12h-1zM130 102h1v12h-1zM167 109h1v12h-1zM129 114h1v12h-1zM168 121h1v12h-1zM128 126h1v12h-1zM169 133h1v12h-1zM127 138h1v12h-1zM170 145h1v12h-1zM126 150h1v12h-1zM171 157h1v11h-1zM125 162h1v12h-1zM172 168h1v12h-1zM124 174h1v12h-1zM173 180h1v12h-1zM123 186h1v12h-1zM174 192h1v12h-1zM122 198h1v12h-1zM175 204h1v12h-1zM121 210h1v12h-1zM176 216h1v11h-1zM120 222h1v12h-1zM177 227h1v12h-1zM119 234h1v12h-1zM178 239h1v12h-1zM118 246h1v12h-1zM179 251h1v12h-1zM117 258h1v12h-1zM180 263h1v12h-1zM116 270h1v12h-1zM181 275h1v12h-1zM115 282h1v12h-1zM182 287h1v11h-1zM114 294h1v12h-1zM183 298h1v12h-1zM113 306h1v12h-1zM184 310h1v12h-1zM112 318h1v12h-1zM392 320h1v2h-1zM185 322h1v12h-1zM391 322h1v4h-1zM393 322h1v4h-1zM390 326h1v4h-1zM394 326h1v4h-1zM111 330h1v12h-1zM389 330h1v4h-1zM395 330h1v3h-1zM396 333h1v4h-1zM186 334h1v12h-1zM388 334h1v4h-1zM397 337h1v3h-1zM387 338h1v3h-1zM478 339h1v2h-1zM398 340h1v4h-1zM386 341h1v4h-1zM477 341h1v3h-1zM479 341h1v3h-1zM110 342h1v12h-1zM399 344h1v4h-1zM476 344h1v3h-1zM480 344h1v3h-1zM385 345h1v4h-1zM187 346h1v11h-1zM475 347h1v3h-1zM481 347h1v3h-1zM400 348h1v3h-1zM384 349h1v4h-1zM474 350h1v4h-1zM482 350h1v3h-1zM401 351h1v4h-1zM383 353h1v3h-1zM483 353h1v3h-1zM109 354h1v12h-1zM473 354h1v3h-1zM402 355h1v4h-1zM382 356h1v4h-1zM484 356h1v3h-1zM188 357h1v12h-1zM472 357h1v3h-1zM250 359h1v2h-1zM403 359h1v3h-1zM485 359h1v4h-1zM381 360h1v4h-1zM471 360h1v3h-1zM249 361h1v2h-1zM251 361h1v2h-1zM404 362h1v4h-1zM248 363h1v2h-1zM252 363h1v2h-1zM470 363h1v3h-1zM486 363h1v3h-1zM380 364h1v4h-1zM247 365h1v3h-1zM253 365h1v2h-1zM108 366h1v7h-1zM405 366h1v3h-1zM469 366h1v3h-1zM487 366h1v3h-1zM254 367h1v2h-1zM246 368h1v2h-1zM379 368h1v4h-1zM189 369h1v12h-1zM255 369h1v3h-1zM406 369h1v4h-1zM468 369h1v3h-1zM488 369h1v3h-1zM245 370h1v2h-1zM244 372h1v3h-1zM256 372h1v2h-1zM378 372h1v3h-1zM467 372h1v4h-1zM489 372h1v3h-1zM107 373h1v2h-1zM407 373h1v4h-1zM257 374h1v2h-1zM106 375h1v2h-1zM243 375h1v2h-1zM377 375h1v4h-1zM490 375h1v3h-1zM258 376h1v2h-1zM466 376h1v3h-1zM105 377h1v1h-1zM242 377h1v2h-1zM408 377h1v3h-1zM104 378h1v2h-1zM259 378h1v2h-1zM491 378h1v3h-1zM241 379h1v3h-1zM376 379h1v4h-1zM465 379h1v3h-1zM103 380h1v2h-1zM260 380h1v3h-1zM409 380h1v4h-1zM190 381h1v12h-1zM492 381h1v3h-1zM102 382h1v1h-1zM240 382h1v2h-1zM464 382h1v3h-1zM101 383h1v2h-1zM261 383h1v2h-1zM375 383h1v4h-1zM51 384h1v1h-1zM239 384h1v2h-1zM410 384h1v3h-1zM493 384h1v3h-1zM52 385h1v1h-1zM100 385h1v2h-1zM262 385h1v2h-1zM463 385h1v3h-1zM53 386h1v2h-1zM238 386h1v3h-1zM99 387h1v1h-1zM263 387h1v2h-1zM374 387h1v4h-1zM411 387h1v4h-1zM494 387h1v3h-1zM54 388h1v1h-1zM98 388h1v2h-1zM462 388h1v3h-1zM55 389h1v1h-1zM237 389h1v2h-1zM264 389h1v2h-1zM56 390h1v2h-1zM97 390h1v2h-1zM495 390h1v3h-1zM236 391h1v2h-1zM265 391h1v3h-1zM373 391h1v3h-1zM412 391h1v4h-1zM461 391h1v3h-1zM57 392h1v1h-1zM96 392h1v1h-1zM58 393h1v1h-1zM95 393h1v2h-1zM191 393h1v12h-1zM235 393h1v2h-1zM496 393h1v3h-1zM59 394h1v1h-1zM266 394h1v2h-1zM372 394h1v4h-1zM460 394h1v4h-1zM60 395h1v2h-1zM94 395h1v2h-1zM234 395h1v3h-1zM413 395h1v3h-1zM267 396h1v2h-1zM497 396h1v3h-1zM61 397h1v1h-1zM93 397h1v1h-1zM62 398h1v1h-1zM92 398h1v2h-1zM233 398h1v2h-1zM268 398h1v2h-1zM371 398h1v4h-1zM414 398h1v4h-1zM459 398h1v3h-1zM63 399h1v2h-1zM498 399h1v3h-1zM91 400h1v1h-1zM232 400h1v2h-1zM269 400h1v3h-1zM64 401h1v1h-1zM90 401h1v2h-1zM458 401h1v3h-1zM65 402h1v1h-1zM231 402h1v3h-1zM370 402h1v4h-1zM415 402h1v4h-1zM499 402h1v4h-1zM66 403h1v1h-1zM89 403h1v2h-1zM270 403h1v2h-1zM67 404h1v2h-1zM457 404h1v3h-1zM88 405h1v1h-1zM192 405h1v12h-1zM230 405h1v2h-1zM271 405h1v2h-1zM68 406h1v1h-1zM87 406h1v2h-1zM369 406h1v3h-1zM416 406h1v3h-1zM500 406h1v3h-1zM69 407h1v1h-1zM229 407h1v2h-1zM272 407h1v2h-1zM456 407h1v3h-1zM70 408h1v2h-1zM86 408h1v2h-1zM228 409h1v3h-1zM273 409h1v2h-1zM368 409h1v4h-1zM417 409h1v4h-1zM501 409h1v3h-1zM71 410h1v1h-1zM85 410h1v1h-1zM455 410h1v3h-1zM592 410h1v1h-1zM72 411h1v1h-1zM84 411h1v2h-1zM274 411h1v3h-1zM591 411h1v1h-1zM593 411h1v1h-1zM73 412h1v1h-1zM227 412h1v2h-1zM502 412h1v3h-1zM590 412h1v1h-1zM594 412h2v1h-2zM74 413h1v2h-1zM83 413h1v2h-1zM367 413h1v4h-1zM418 413h1v3h-1zM454 413h1v3h-1zM589 413h1v1h-1zM596 413h1v1h-1zM226 414h1v2h-1zM275 414h1v2h-1zM588 414h1v1h-1zM597 414h1v1h-1zM75 415h1v1h-1zM82 415h1v1h-1zM503 415h1v3h-1zM587 415h1v1h-1zM598 415h2v1h-2zM76 416h1v1h-1zM81 416h1v2h-1zM225 416h1v3h-1zM276 416h1v2h-1zM419 416h1v4h-1zM453 416h1v4h-1zM586 416h1v1h-1zM600 416h1v1h-1zM77 417h1v2h-1zM193 417h1v5h-1zM366 417h1v4h-1zM585 417h1v2h-1zM601 417h1v1h-1zM80 418h1v2h-1zM277 418h1v2h-1zM504 418h1v3h-1zM602 418h2v1h-2zM78 419h1v1h-1zM224 419h1v2h-1zM584 419h1v1h-1zM604 419h1v1h-1zM79 420h1v1h-1zM278 420h1v2h-1zM420 420h1v4h-1zM452 420h1v3h-1zM583 420h1v1h-1zM605 420h1v1h-1zM223 421h1v2h-1zM365 421h1v4h-1zM505 421h1v3h-1zM582 421h1v1h-1zM606 421h2v1h-2zM193 422h8v1h-8zM279 422h1v1h-1zM581 422h1v1h-1zM608 422h1v1h-1zM201 423h14v1h-14zM222 423h1v1h-1zM279 423h14v1h-14zM451 423h1v3h-1zM580 423h1v1h-1zM609 423h1v1h-1zM215 424h8v1h-8zM293 424h29v1h-29zM421 424h1v1h-1zM506 424h1v1h-1zM579 424h1v1h-1zM610 424h2v1h-2zM322 425h28v1h-28zM364 425h1v1h-1zM421 425h3v1h-3zM506 425h3v1h-3zM578 425h1v1h-1zM612 425h1v1h-1zM350 426h15v1h-15zM424 426h6v1h-6zM450 426h1v3h-1zM509 426h5v1h-5zM577 426h1v1h-1zM613 426h1v1h-1zM430 427h5v1h-5zM514 427h5v1h-5zM576 427h1v1h-1zM614 427h2v1h-2zM435 428h6v1h-6zM519 428h4v1h-4zM575 428h1v1h-1zM616 428h1v1h-1zM441 429h6v1h-6zM449 429h1v1h-1zM523 429h5v1h-5zM574 429h1v1h-1zM617 429h1v1h-1zM447 430h3v1h-3zM528 430h5v1h-5zM573 430h1v1h-1zM618 430h2v1h-2zM533 431h4v1h-4zM572 431h1v1h-1zM620 431h1v1h-1zM537 432h3v1h-3zM571 432h1v1h-1zM540 433h2v1h-2zM570 433h1v2h-1zM542 434h3v1h-3zM545 435h3v1h-3zM569 435h1v1h-1zM548 436h3v1h-3zM568 436h1v1h-1zM551 437h3v1h-3zM567 437h1v1h-1zM554 438h2v1h-2zM566 438h1v1h-1zM556 439h3v1h-3zM565 439h1v1h-1zM559 440h3v1h-3zM564 440h1v1h-1zM562 441h2v1h-2z"/>
<path fill="#00c000" d="M573 32h34v1h-34z"/>
<path fill="#0080ff" d="M573 44h34v1h-34z"/>
<path fill="#c000ff" d="M573 56h34v1h-34z"/>
<path fill="#00eeee" d="M573 68h34v1h-34z"/>
<path fill="#c04000" d="M573 80h34v1h-34z"/>
<path fill="#eeee00" d="M573 92h34v1h-34z"/>
<path fill="#000000" d="M315 12h1v3h-1zM344 12h3v1h-3zM351 12h3v1h-3zM358 12h3v1h-3zM333 13h1v1h-1zM343 13h1v1h-1zM347 13h1v2h-1zM350 13h1v1h-1zM354 13h1v2h-1zM357 13h1v3h-1zM361 13h1v1h-1zM309 14h4v1h-4zM317 14h2v1h-2zM332 14h1v1h-1zM360 14h2v1h-2zM308 15h1v1h-1zM315 15h2v1h-2zM319 15h1v4h-1zM331 15h1v1h-1zM345 15h2v1h-2zM351 15h3v1h-3zM359 15h1v1h-1zM361 15h1v3h-1zM309 16h3v1h-3zM315 16h1v3h-1zM330 16h1v1h-1zM347 16h1v2h-1zM350 16h1v2h-1zM357 16h2v1h-2zM312 17h1v1h-1zM329 17h1v1h-1zM343 17h1v1h-1zM357 17h1v1h-1zM33 18h1v1h-1zM39 18h3v1h-3zM308 18h4v1h-4zM344 18h3v1h-3zM350 18h5v1h-5zM358 18h3v1h-3zM32 19h2v1h-2zM38 19h1v2h-1zM42 19h1v2h-1zM33 20h1v4h-1zM39 21h3v1h-3zM51 21h570v1h-570zM38 22h1v2h-1zM42 22h1v2h-1zM51 22h1v46h-1zM193 22h1v5h-1zM336 22h1v5h-1zM478 22h1v5h-1zM620 22h1v46h-1zM32 24h3v1h-3zM39 24h3v1h-3zM532 29h1v3h-1zM534 31h2v1h-2zM539 31h1v1h-1zM543 31h1v1h-1zM546 31h2v1h-2zM549 31h1v1h-1zM554 31h3v1h-3zM560 31h1v1h-1zM564 31h1v1h-1zM532 32h2v1h-2zM536 32h1v3h-1zM540 32h1v1h-1zM542 32h1v1h-1zM546 32h1v4h-1zM548 32h1v4h-1zM550 32h1v4h-1zM557 32h1v1h-1zM561 32h1v1h-1zM563 32h1v1h-1zM532 33h1v1h-1zM541 33h1v1h-1zM554 33h4v1h-4zM562 33h1v1h-1zM532 34h2v1h-2zM540 34h1v1h-1zM542 34h1v1h-1zM553 34h1v1h-1zM557 34h1v1h-1zM561 34h1v1h-1zM563 34h1v1h-1zM532 35h1v1h-1zM534 35h2v1h-2zM539 35h1v1h-1zM543 35h1v1h-1zM554 35h4v1h-4zM560 35h1v1h-1zM564 35h1v1h-1zM536 41h1v3h-1zM533 43h2v1h-2zM540 43h3v1h-3zM546 43h2v1h-2zM549 43h1v1h-1zM554 43h3v1h-3zM560 43h1v1h-1zM564 43h1v1h-1zM532 44h1v3h-1zM535 44h2v1h-2zM539 44h1v3h-1zM543 44h1v3h-1zM546 44h1v4h-1zM548 44h1v4h-1zM550 44h1v4h-1zM557 44h1v1h-1zM561 44h1v1h-1zM563 44h1v1h-1zM536 45h1v1h-1zM554 45h4v1h-4zM562 45h1v1h-1zM535 46h2v1h-2zM553 46h1v1h-1zM557 46h1v1h-1zM561 46h1v1h-1zM563 46h1v1h-1zM533 47h2v1h-2zM536 47h1v1h-1zM540 47h3v1h-3zM554 47h4v1h-4zM560 47h1v1h-1zM564 47h1v1h-1zM533 55h4v1h-4zM540 55h3v1h-3zM546 55h2v1h-2zM549 55h1v1h-1zM554 55h3v1h-3zM560 55h1v1h-1zM564 55h1v1h-1zM532 56h1v1h-1zM539 56h1v3h-1zM543 56h1v3h-1zM546 56h1v4h-1zM548 56h1v4h-1zM550 56h1v4h-1zM557 56h1v1h-1zM561 56h1v1h-1zM563 56h1v1h-1zM533 57h3v1h-3zM554 57h4v1h-4zM562 57h1v1h-1zM536 58h1v1h-1zM553 58h1v1h-1zM557 58h1v1h-1zM561 58h1v1h-1zM563 58h1v1h-1zM532 59h4v1h-4zM540 59h3v1h-3zM554 59h4v1h-4zM560 59h1v1h-1zM564 59h1v1h-1zM33 65h1v1h-1zM40 65h2v1h-2zM32 66h2v1h-2zM39 66h1v1h-1zM33 67h1v4h-1zM38 67h1v1h-1zM533 67h3v1h-3zM539 67h1v1h-1zM541 67h2v1h-2zM546 67h2v1h-2zM549 67h1v1h-1zM554 67h3v1h-3zM560 67h1v1h-1zM564 67h1v1h-1zM38 68h4v1h-4zM51 68h6v1h-6zM532 68h1v3h-1zM536 68h1v3h-1zM539 68h2v1h-2zM543 68h1v3h-1zM546 68h1v4h-1zM548 68h1v4h-1zM550 68h1v4h-1zM557 68h1v1h-1zM561 68h1v1h-1zM563 68h1v1h-1zM615 68h6v1h-6zM38 69h1v2h-1zM42 69h1v2h-1zM51 69h1v46h-1zM539 69h1v1h-1zM554 69h4v1h-4zM562 69h1v1h-1zM620 69h1v46h-1zM539 70h2v1h-2zM553 70h1v1h-1zM557 70h1v1h-1zM561 70h1v1h-1zM563 70h1v1h-1zM32 71h3v1h-3zM39 71h3v1h-3zM533 71h3v1h-3zM539 71h1v3h-1zM541 71h2v1h-2zM554 71h4v1h-4zM560 71h1v1h-1zM564 71h1v1h-1zM525 79h1v1h-1zM527 79h2v1h-2zM533 79h2v1h-2zM536 79h1v1h-1zM539 79h1v1h-1zM541 79h2v1h-2zM546 79h2v1h-2zM549 79h1v1h-1zM554 79h3v1h-3zM560 79h1v1h-1zM564 79h1v1h-1zM525 80h2v1h-2zM529 80h1v3h-1zM532 80h1v3h-1zM535 80h2v1h-2zM539 80h2v1h-2zM543 80h1v3h-1zM546 80h1v4h-1zM548 80h1v4h-1zM550 80h1v4h-1zM557 80h1v1h-1zM561 80h1v1h-1zM563 80h1v1h-1zM525 81h1v1h-1zM536 81h1v1h-1zM539 81h1v1h-1zM554 81h4v1h-4zM562 81h1v1h-1zM525 82h2v1h-2zM535 82h2v1h-2zM539 82h2v1h-2zM553 82h1v1h-1zM557 82h1v1h-1zM561 82h1v1h-1zM563 82h1v1h-1zM525 83h1v3h-1zM527 83h2v1h-2zM533 83h2v1h-2zM536 83h1v3h-1zM539 83h1v3h-1zM541 83h2v1h-2zM554 83h4v1h-4zM560 83h1v1h-1zM564 83h1v1h-1zM532 91h1v3h-1zM536 91h1v3h-1zM540 91h3v1h-3zM546 91h2v1h-2zM549 91h1v1h-1zM554 91h3v1h-3zM560 91h1v1h-1zM564 91h1v1h-1zM539 92h1v3h-1zM543 92h1v1h-1zM546 92h1v4h-1zM548 92h1v4h-1zM550 92h1v4h-1zM557 92h1v1h-1zM561 92h1v1h-1zM563 92h1v1h-1zM554 93h4v1h-4zM562 93h1v1h-1zM533 94h1v1h-1zM535 94h1v1h-1zM543 94h1v1h-1zM553 94h1v1h-1zM557 94h1v1h-1zM561 94h1v1h-1zM563 94h1v1h-1zM534 95h1v1h-1zM540 95h3v1h-3zM554 95h4v1h-4zM560 95h1v1h-1zM564 95h1v1h-1zM33 112h1v1h-1zM41 112h1v1h-1zM32 113h2v1h-2zM40 113h2v1h-2zM33 114h1v4h-1zM39 114h1v1h-1zM41 114h1v2h-1zM38 115h1v1h-1zM51 115h6v1h-6zM615 115h6v1h-6zM38 116h5v1h-5zM51 116h1v47h-1zM620 116h1v47h-1zM41 117h1v2h-1zM32 118h3v1h-3zM33 160h1v1h-1zM39 160h3v1h-3zM32 161h2v1h-2zM38 161h1v1h-1zM42 161h1v2h-1zM33 162h1v4h-1zM39 163h3v1h-3zM51 163h6v1h-6zM615 163h6v1h-6zM38 164h1v2h-1zM51 164h1v46h-1zM620 164h1v46h-1zM32 166h3v1h-3zM38 166h5v1h-5zM10 183h1v1h-1zM12 183h1v1h-1zM9 184h1v3h-1zM13 184h1v3h-1zM10 187h3v1h-3zM10 190h2v1h-2zM9 191h1v3h-1zM11 191h1v3h-1zM13 191h1v3h-1zM10 194h3v1h-3zM9 197h1v4h-1zM12 197h1v1h-1zM11 198h1v3h-1zM13 198h1v4h-1zM10 201h1v1h-1zM13 205h1v1h-1zM7 206h1v1h-1zM9 206h5v1h-5zM9 207h1v1h-1zM13 207h1v1h-1zM33 207h1v1h-1zM39 207h3v1h-3zM32 208h2v1h-2zM38 208h1v3h-1zM42 208h1v1h-1zM33 209h1v4h-1zM41 209h2v1h-2zM40 210h1v1h-1zM42 210h1v3h-1zM51 210h6v1h-6zM615 210h6v1h-6zM38 211h2v1h-2zM51 211h1v46h-1zM620 211h1v46h-1zM13 212h1v1h-1zM38 212h1v1h-1zM7 213h7v1h-7zM32 213h3v1h-3zM39 213h3v1h-3zM7 214h1v1h-1zM13 214h1v1h-1zM13 219h1v1h-1zM7 220h7v1h-7zM7 221h1v1h-1zM13 221h1v1h-1zM13 226h1v1h-1zM7 227h1v1h-1zM9 227h5v1h-5zM9 228h1v1h-1zM13 228h1v1h-1zM10 232h4v1h-4zM9 233h1v1h-1zM10 234h4v1h-4zM9 235h1v1h-1zM9 236h5v1h-5zM8 246h1v1h-1zM9 247h1v1h-1zM10 248h1v1h-1zM11 249h1v1h-1zM12 250h1v1h-1zM39 254h3v1h-3zM38 255h1v2h-1zM42 255h1v2h-1zM39 257h3v1h-3zM51 257h6v1h-6zM615 257h6v1h-6zM38 258h1v2h-1zM42 258h1v2h-1zM51 258h1v46h-1zM620 258h1v46h-1zM10 260h2v1h-2zM39 260h3v1h-3zM9 261h1v3h-1zM11 261h1v3h-1zM13 261h1v3h-1zM10 264h3v1h-3zM10 267h4v1h-4zM9 268h1v1h-1zM10 269h4v1h-4zM9 270h1v1h-1zM9 271h5v1h-5zM13 275h1v1h-1zM7 276h1v1h-1zM9 276h5v1h-5zM9 277h1v1h-1zM13 277h1v1h-1zM9 281h1v2h-1zM12 281h1v1h-1zM13 282h1v1h-1zM7 283h6v1h-6zM9 284h1v2h-1zM40 301h2v1h-2zM39 302h1v1h-1zM38 303h1v1h-1zM38 304h4v1h-4zM51 304h6v1h-6zM615 304h6v1h-6zM38 305h1v2h-1zM42 305h1v2h-1zM51 305h1v47h-1zM620 305h1v47h-1zM39 307h3v1h-3zM41 349h1v1h-1zM40 350h2v1h-2zM39 351h1v1h-1zM41 351h1v2h-1zM38 352h1v1h-1zM51 352h6v1h-6zM615 352h6v1h-6zM38 353h5v1h-5zM51 353h1v46h-1zM620 353h1v46h-1zM41 354h1v2h-1zM39 396h3v1h-3zM38 397h1v1h-1zM42 397h1v2h-1zM39 399h3v1h-3zM51 399h6v1h-6zM615 399h6v1h-6zM38 400h1v2h-1zM51 400h1v46h-1zM620 400h1v46h-1zM38 402h5v1h-5zM193 441h1v5h-1zM336 441h1v5h-1zM478 441h1v5h-1zM39 443h3v1h-3zM38 444h1v3h-1zM42 444h1v1h-1zM41 445h2v1h-2zM40 446h1v1h-1zM42 446h1v3h-1zM51 446h570v1h-570zM38 447h2v1h-2zM38 448h1v1h-1zM39 449h3v1h-3zM53 454h3v1h-3zM185 454h3v1h-3zM199 454h3v1h-3zM205 454h5v1h-5zM331 454h3v1h-3zM346 454h1v1h-1zM470 454h3v1h-3zM485 454h1v1h-1zM490 454h5v1h-5zM615 454h3v1h-3zM629 454h3v1h-3zM52 455h1v3h-1zM56 455h1v1h-1zM184 455h1v3h-1zM188 455h1v1h-1zM198 455h1v3h-1zM202 455h1v1h-1zM205 455h1v1h-1zM330 455h1v3h-1zM334 455h1v1h-1zM345 455h2v1h-2zM469 455h1v3h-1zM473 455h1v1h-1zM484 455h2v1h-2zM490 455h1v1h-1zM614 455h1v3h-1zM618 455h1v1h-1zM628 455h1v1h-1zM632 455h1v2h-1zM55 456h2v1h-2zM187 456h2v1h-2zM201 456h2v1h-2zM205 456h4v1h-4zM333 456h2v1h-2zM346 456h1v4h-1zM472 456h2v1h-2zM485 456h1v4h-1zM490 456h4v1h-4zM617 456h2v1h-2zM54 457h1v1h-1zM56 457h1v3h-1zM186 457h1v1h-1zM188 457h1v3h-1zM200 457h1v1h-1zM202 457h1v3h-1zM209 457h1v3h-1zM332 457h1v1h-1zM334 457h1v3h-1zM471 457h1v1h-1zM473 457h1v3h-1zM494 457h1v3h-1zM616 457h1v1h-1zM618 457h1v3h-1zM629 457h3v1h-3zM52 458h2v1h-2zM184 458h2v1h-2zM198 458h2v1h-2zM330 458h2v1h-2zM469 458h2v1h-2zM614 458h2v1h-2zM628 458h1v2h-1zM52 459h1v1h-1zM184 459h1v1h-1zM192 459h2v2h-2zM198 459h1v1h-1zM205 459h1v1h-1zM330 459h1v1h-1zM338 459h2v2h-2zM469 459h1v1h-1zM477 459h2v2h-2zM490 459h1v1h-1zM614 459h1v1h-1zM622 459h2v2h-2zM53 460h3v1h-3zM185 460h3v1h-3zM199 460h3v1h-3zM206 460h3v1h-3zM331 460h3v1h-3zM345 460h3v1h-3zM470 460h3v1h-3zM484 460h3v1h-3zM491 460h3v1h-3zM615 460h3v1h-3zM628 460h5v1h-5zM312 470h1v3h-1zM317 470h1v1h-1zM331 470h1v2h-1zM309 472h2v1h-2zM316 472h2v1h-2zM323 472h4v1h-4zM329 472h5v1h-5zM337 472h3v1h-3zM343 472h1v1h-1zM345 472h2v1h-2zM351 472h3v1h-3zM358 472h3v1h-3zM308 473h1v3h-1zM311 473h2v1h-2zM317 473h1v3h-1zM322 473h1v1h-1zM331 473h1v3h-1zM340 473h1v1h-1zM343 473h2v1h-2zM347 473h1v4h-1zM350 473h1v3h-1zM354 473h1v1h-1zM357 473h1v1h-1zM361 473h1v1h-1zM312 474h1v1h-1zM323 474h3v1h-3zM337 474h4v1h-4zM343 474h1v3h-1zM357 474h5v1h-5zM311 475h2v1h-2zM326 475h1v1h-1zM333 475h1v1h-1zM336 475h1v1h-1zM340 475h1v1h-1zM354 475h1v1h-1zM357 475h1v1h-1zM309 476h2v1h-2zM312 476h1v1h-1zM316 476h3v1h-3zM322 476h4v1h-4zM332 476h1v1h-1zM337 476h4v1h-4zM351 476h3v1h-3zM358 476h3v1h-3z"/>
</svg>
</body></html>
